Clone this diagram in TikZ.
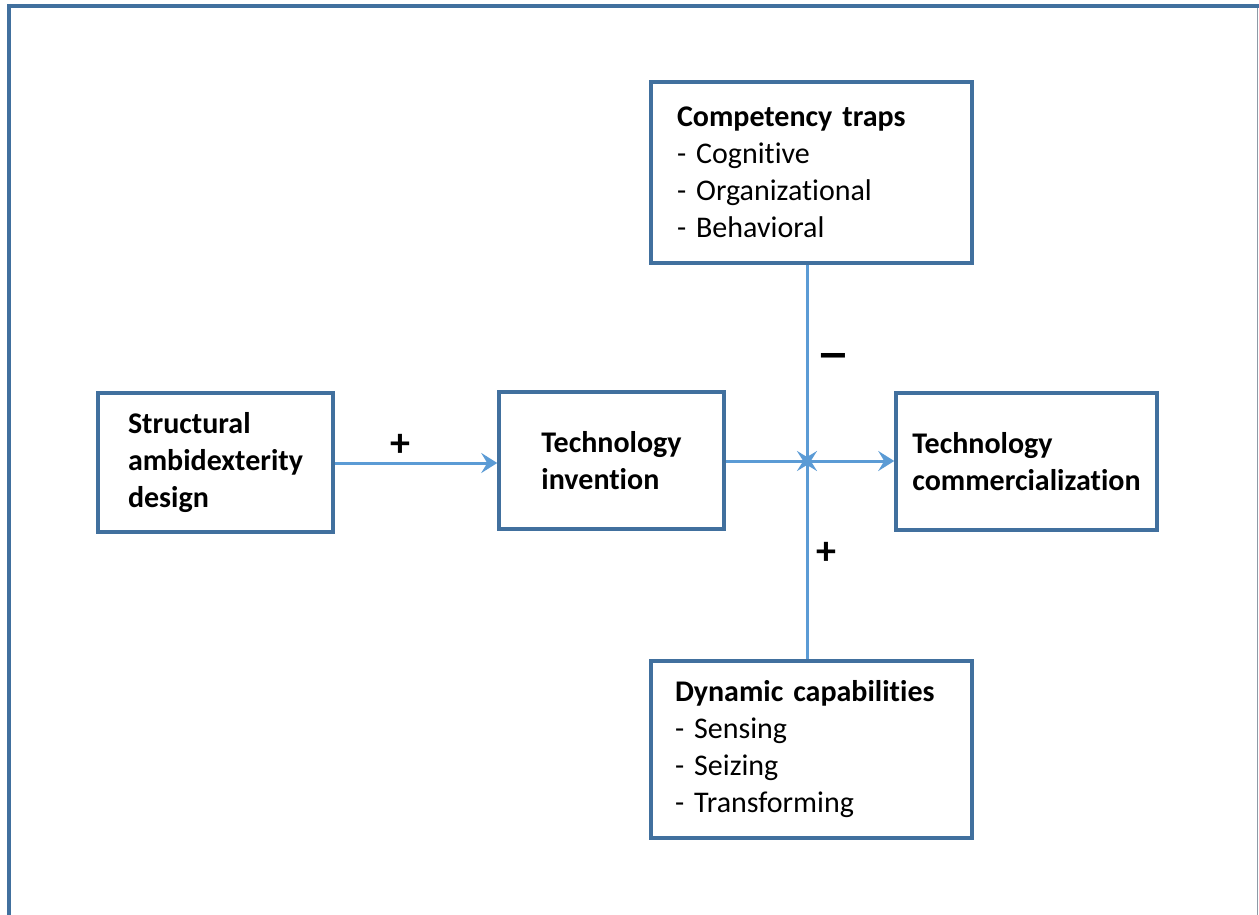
\documentclass[tikz,border=0pt]{standalone}
\usepackage{fontspec}
\usepackage{graphicx}
\setmainfont{Carlito}[RawFeature=-liga]
\usetikzlibrary{arrows.meta}
\definecolor{boxblue}{HTML}{41709E}
\definecolor{arrowblue}{HTML}{5B9BD5}
\definecolor{framegray}{HTML}{8E9AA6}
\newcommand{\myboxfont}{\fontsize{30}{37}\selectfont\spaceskip 5.5pt plus 1pt\relax}
\tikzset{
  box/.style={draw=boxblue, line width=3.5pt, rectangle, align=left, inner sep=0pt,
    font=\myboxfont},
  conn/.style={draw=arrowblue, line width=3pt, -{Stealth[length=16pt,width=20pt,inset=6pt]}},
  sign/.style={font=\fontsize{40}{40}\selectfont\bfseries, inner sep=0pt}
}
\begin{document}
\begin{tikzpicture}[x=1pt,y=-1pt]
\useasboundingbox (0,0) rectangle (1259,915);
% outer frame
\draw[framegray, line width=1.5pt] (1257.5,6) -- (1257.5,915);
\draw[boxblue, line width=4pt] (7,6) -- (1259,6);
\draw[boxblue, line width=4pt] (9,4) -- (9,915);
% boxes
\node[box, minimum width=235pt, minimum height=139pt] (struct) at (215.5,462.5)
  {\textbf{Structural}\\\textbf{ambidexterity}\\\textbf{design}};
\node[box, minimum width=225pt, minimum height=137pt] (inv) at (611.5,460.5)
  {\textbf{Technology}\\\textbf{invention}};
\node[box, minimum width=261pt, minimum height=137pt] (comm) at (1026.5,461.5)
  {\textbf{Technology}\\\textbf{commercialization}};
\node[box, minimum height=181pt, text width=269pt, inner xsep=26pt] (comp) at (811.5,172.5)
  {\textbf{Competency traps}\\- Cognitive\\- Organizational\\- Behavioral};
\node[box, minimum height=177pt, text width=273pt, inner xsep=24pt] (dyn) at (811.5,749.5)
  {\textbf{Dynamic capabilities}\\- Sensing\\- Seizing\\- Transforming};
% connectors
\coordinate (cross) at (807,461);
\coordinate (row1) at (0,463);
\draw[conn] (struct.east |- row1) -- (inv.west |- row1);
\draw[conn] (inv.east |- cross) -- (comm.west |- cross);
\draw[conn] (comp.south -| cross) -- ([yshift=-6pt]cross);
\draw[conn] (dyn.north -| cross) -- ([yshift=6pt]cross);
% signs
\node[sign] (plus1) at (400,445) {+};
\node[sign] (minus) at (833,362) {\scalebox{1.7}[1.3]{–}};
\node[sign] (plus2) at (826,553) {+};
\end{tikzpicture}
\end{document}
